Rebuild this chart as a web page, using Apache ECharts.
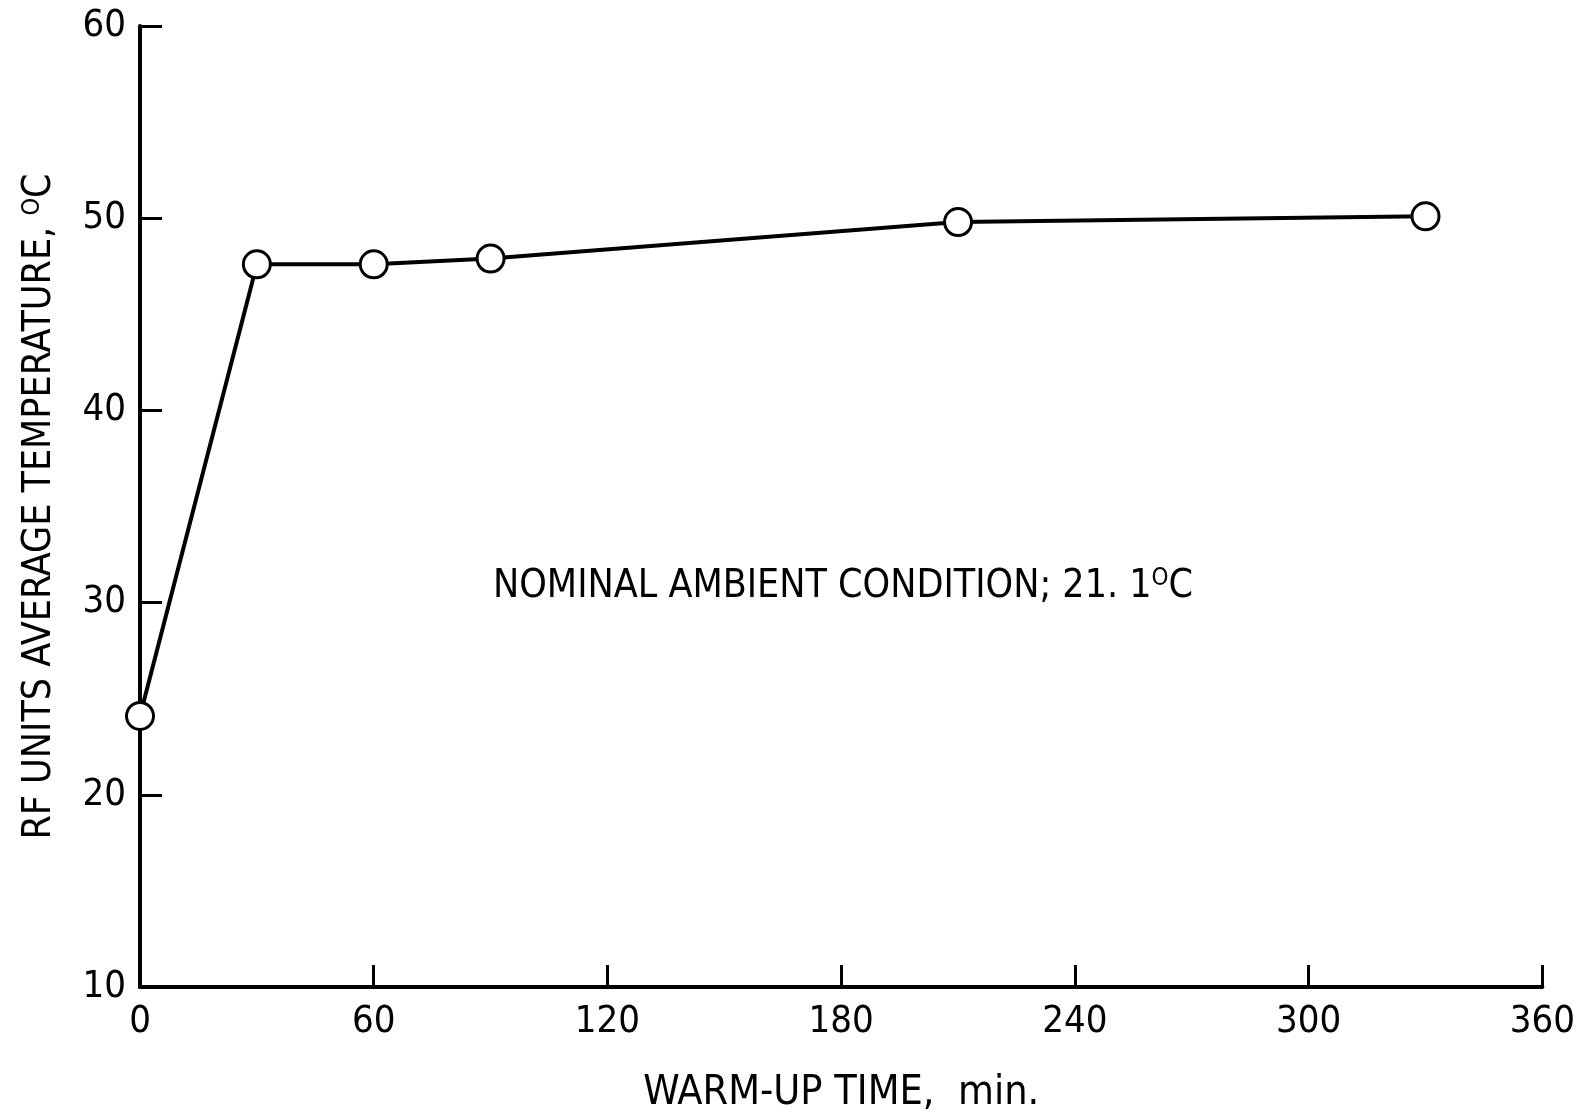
<!DOCTYPE html>
<html>
<head>
<meta charset="utf-8">
<script src="https://cdn.jsdelivr.net/npm/echarts@6/dist/echarts.min.js"></script>
<style>
  html, body { margin: 0; padding: 0; background: #fff; }
  #chart { width: 1578px; height: 1119px; }
</style>
</head>
<body>
<div id="chart"></div>
<script>
  // warm-up time (min) and average temperature (deg C)
  var warmupTime = [0, 30, 60, 90, 210, 330];
  var avgTemp = [24.1, 47.6, 47.6, 47.9, 49.8, 50.1];

  var xTicks = [0, 60, 120, 180, 240, 300, 360];
  var yTicks = [10, 20, 30, 40, 50, 60];

  var FONT = '"Liberation Sans Narrow", "DejaVu Sans Condensed", "Noto Sans", sans-serif';

  var chart = echarts.init(document.getElementById('chart'));

  var points = warmupTime.map(function (t, i) { return [t, avgTemp[i]]; });

  chart.setOption({
    animation: false,
    backgroundColor: '#fff',
    textStyle: { fontFamily: FONT, color: '#000' },
    grid: { left: 140, right: 34, top: 26, bottom: 128 },
    xAxis: {
      type: 'value',
      min: xTicks[0],
      max: xTicks[xTicks.length - 1],
      interval: 60,
      splitLine: { show: false },
      axisLine: { lineStyle: { color: '#000', width: 4 } },
      axisTick: { inside: true, length: 22, lineStyle: { color: '#000', width: 3 } },
      axisLabel: { color: '#000', fontSize: 38, fontFamily: FONT, margin: 16 },
      name: 'WARM-UP TIME,  min.',
      nameLocation: 'middle',
      nameGap: 86,
      nameTextStyle: { color: '#000', fontSize: 41, fontFamily: FONT }
    },
    yAxis: {
      type: 'value',
      min: yTicks[0],
      max: yTicks[yTicks.length - 1],
      interval: 10,
      splitLine: { show: false },
      axisLine: { lineStyle: { color: '#000', width: 4 } },
      axisTick: { inside: true, length: 22, lineStyle: { color: '#000', width: 3 } },
      axisLabel: { color: '#000', fontSize: 38, fontFamily: FONT, margin: 14 },
      name: 'RF UNITS AVERAGE TEMPERATURE, {sup|O}C',
      nameLocation: 'middle',
      nameRotate: 90,
      nameGap: 81,
      nameTextStyle: {
        color: '#000', fontSize: 39, fontFamily: FONT,
        rich: {
          sup: { fontSize: 25, fontFamily: FONT, color: '#000', verticalAlign: 'top', lineHeight: 39 }
        }
      }
    },
    graphic: [{
      type: 'text',
      left: 493,
      top: 567,
      style: {
        text: 'NOMINAL AMBIENT CONDITION; 21. 1{sup|O}C',
        fill: '#000',
        font: '39px ' + FONT,
        rich: {
          sup: { fontSize: 24, fontFamily: FONT, fill: '#000', verticalAlign: 'top', lineHeight: 39 }
        }
      }
    }],
    series: [{
      type: 'line',
      data: points,
      symbol: 'circle',
      symbolSize: 27,
      lineStyle: { color: '#000', width: 4 },
      itemStyle: { color: '#fff', borderColor: '#000', borderWidth: 3 }
    }]
  });
</script>
</body>
</html>
